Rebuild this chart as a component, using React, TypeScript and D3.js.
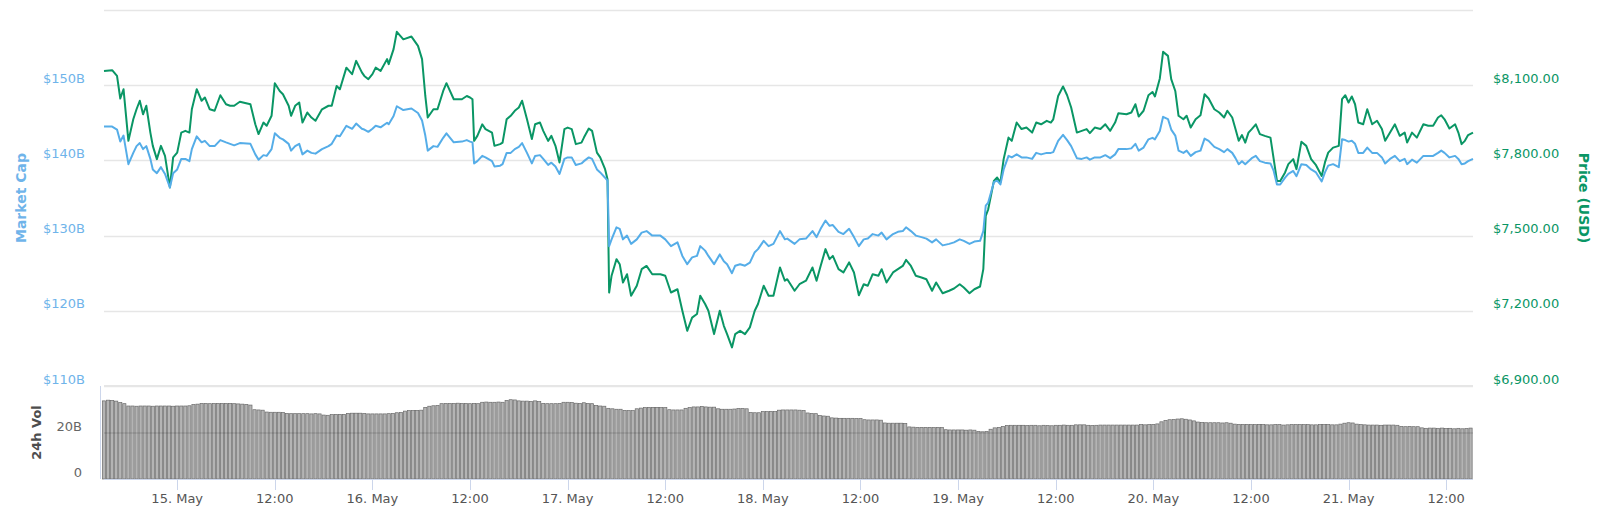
import React, { useEffect, useRef } from 'react';
import * as d3 from 'd3';

// 7 day window, starts 14 May 15:00 (UTC)
const START = Date.UTC(2019, 4, 14, 15, 0);
const HOUR = 3600 * 1000;
const SPAN_HOURS = 168.3;

// hours since START for each price / market cap sample
const hours = [
  0, 1, 1.6, 2, 2.4, 3, 3.6, 4, 4.4, 4.8,
  5.2, 5.7, 6, 6.5, 7, 7.5, 8.1, 8.5, 9, 9.5,
  10, 10.5, 10.8, 11.4, 12, 12.4, 13, 13.6, 14.3, 15,
  15.5, 16, 16.7, 18, 18.6, 19, 19.6, 20, 20.6, 21,
  21.6, 22, 22.7, 23, 23.5, 24, 24.4, 25, 25.5, 26,
  26.8, 27.6, 28, 28.6, 29, 29.8, 30.5, 31, 31.7, 32,
  32.5, 33, 33.4, 34, 34.8, 35, 35.6, 36, 36.8, 37.8,
  38.6, 39.1, 39.5, 39.8, 40.5, 41, 41.7, 42.1, 43, 44,
  44.6, 45, 45.3, 45.5, 45.9, 46.5, 46.9, 47.7, 48, 48.7,
  49, 49.5, 50, 50.5, 51, 51.4, 52, 52.6, 53, 53.6,
  54, 54.6, 55, 55.5, 56, 56.6, 57, 57.5, 58, 58.7,
  59, 59.6, 60, 60.6, 61, 61.6, 61.9, 62.1, 62.4, 63,
  63.4, 63.8, 64.3, 64.8, 65.5, 66.1, 66.7, 67.4, 68.4, 69,
  69.7, 70.5, 71.1, 71.7, 72.3, 72.9, 73.3, 73.9, 74.3, 75,
  75.7, 76.2, 76.6, 77.2, 77.6, 78.2, 78.8, 79.4, 80, 80.4,
  81.1, 81.7, 82.3, 83.1, 83.7, 84, 84.9, 85.5, 86.3, 87.1,
  87.6, 88.1, 88.7, 89.2, 89.6, 90.3, 90.9, 91.6, 92.2, 92.8,
  93.4, 93.9, 94.5, 95.2, 95.6, 96.2, 97, 97.6, 98.2, 98.6,
  99.2, 99.8, 100.5, 101.1, 101.8, 102.3, 103.1, 103.9, 104.5, 105.2,
  105.7, 106.4, 107, 107.7, 108.1, 108.4, 108.7, 109.4, 109.8, 110.2,
  110.6, 111.2, 111.6, 112.2, 112.8, 113.4, 114.1, 114.6, 115.2, 115.9,
  116.4, 116.7, 117.3, 117.9, 118.4, 118.9, 119.6, 120.2, 120.8, 121.2,
  121.8, 122.5, 123.1, 123.7, 124.3, 124.7, 125.7, 126.3, 126.8, 127.2,
  127.8, 128.4, 128.9, 129.2, 129.8, 130.2, 130.8, 131.2, 131.7, 132.1,
  132.7, 133.1, 133.6, 134.2, 134.8, 135.3, 135.8, 136.5, 137.1, 137.7,
  138.1, 138.7, 139.1, 139.5, 139.9, 140.3, 140.7, 141.1, 141.6, 142.1,
  142.7, 143.4, 143.8, 144.2, 144.6, 145.2, 145.6, 146.2, 146.6, 147.2,
  147.8, 148.4, 149, 149.7, 150.1, 150.5, 151.1, 151.8, 152.2, 152.6,
  153, 153.4, 153.8, 154.2, 154.8, 155.3, 155.9, 156.5, 157.1, 157.5,
  158.1, 158.7, 159.3, 159.9, 160.2, 160.8, 161.4, 162.2, 162.8, 163.4,
  164, 164.4, 164.8, 165.4, 166.1, 166.5, 166.9, 167.3, 167.7, 168.3,
];

// Price (USD)
const priceUsd = [
  8157, 8160, 8137, 8047, 8084, 7878, 7964, 8004, 8038, 7984,
  8018, 7911, 7858, 7805, 7858, 7818, 7692, 7812, 7831, 7911,
  7918, 7911, 8004, 8084, 8038, 8051, 8004, 7998, 8060, 8024,
  8018, 8018, 8034, 8024, 7944, 7905, 7951, 7938, 7978, 8108,
  8077, 8064, 8018, 7978, 8018, 8031, 7951, 7991, 7971, 7958,
  8004, 8018, 8018, 8097, 8084, 8170, 8144, 8197, 8151, 8137,
  8124, 8144, 8170, 8157, 8204, 8184, 8244, 8313, 8283, 8294,
  8257, 8204, 8057, 7971, 8004, 8004, 8077, 8108, 8044, 8044,
  8057, 8051, 8044, 7878, 7898, 7944, 7925, 7911, 7858, 7865,
  7871, 7964, 7978, 7998, 8011, 8038, 7964, 7885, 7944, 7951,
  7918, 7878, 7898, 7858, 7792, 7925, 7931, 7925, 7865, 7871,
  7891, 7927, 7918, 7831, 7812, 7765, 7725, 7273, 7340, 7406,
  7386, 7313, 7346, 7260, 7300, 7366, 7379, 7346, 7346, 7340,
  7273, 7286, 7200, 7120, 7173, 7187, 7260, 7227, 7200, 7107,
  7200, 7140, 7107, 7054, 7107, 7120, 7107, 7134, 7200, 7227,
  7300, 7260, 7260, 7373, 7320, 7326, 7280, 7306, 7320, 7373,
  7320, 7379, 7446, 7406, 7419, 7366, 7353, 7393, 7353, 7262,
  7306, 7300, 7346, 7340, 7366, 7313, 7353, 7366, 7379, 7403,
  7379, 7340, 7333, 7326, 7280, 7313, 7270, 7280, 7289, 7306,
  7293, 7270, 7286, 7297, 7366, 7579, 7605, 7718, 7732, 7712,
  7805, 7891, 7878, 7951, 7925, 7931, 7911, 7951, 7944, 7958,
  7951, 7964, 8057, 8095, 8060, 8011, 7911, 7918, 7925, 7909,
  7931, 7925, 7944, 7918, 7951, 7988, 7984, 7991, 8024, 7975,
  7998, 8060, 8073, 8055, 8127, 8233, 8217, 8124, 8077, 7978,
  7964, 7978, 7931, 7964, 7980, 8064, 8047, 8004, 7991, 7971,
  7998, 7971, 7925, 7878, 7901, 7871, 7911, 7925, 7944, 7905,
  7898, 7891, 7805, 7718, 7718, 7752, 7785, 7805, 7765, 7874,
  7858, 7805, 7781, 7738, 7792, 7831, 7851, 7858, 8044, 8060,
  8031, 8055, 8024, 7951, 7944, 8004, 7944, 7958, 7925, 7878,
  7911, 7944, 7898, 7911, 7871, 7911, 7891, 7944, 7938, 7938,
  7971, 7980, 7964, 7927, 7944, 7911, 7865, 7878, 7901, 7911,
];

// Market cap, billions USD
const marketCapB = [
  144.5, 144.5, 144.1, 142.5, 143.3, 139.5, 141.0, 141.9, 142.3, 141.5,
  141.9, 140.2, 138.8, 138.3, 139.1, 138.2, 136.4, 138.3, 138.8, 140.2,
  140.2, 139.9, 141.5, 143.2, 142.4, 142.6, 141.9, 141.9, 142.7, 142.4,
  142.2, 142.0, 142.3, 142.2, 140.8, 140.1, 140.7, 140.6, 141.5, 143.6,
  143.0, 142.8, 142.2, 141.3, 141.9, 142.2, 140.8, 141.3, 141.0, 140.9,
  141.5, 141.9, 142.2, 143.3, 143.2, 144.6, 144.2, 144.9, 144.2, 144.1,
  143.8, 144.2, 144.6, 144.4, 145.0, 144.8, 145.9, 147.2, 146.7, 146.9,
  146.3, 145.3, 143.3, 141.3, 141.9, 141.8, 143.0, 143.6, 142.4, 142.5,
  142.7, 142.5, 142.4, 139.6, 139.9, 140.6, 140.4, 139.9, 139.2, 139.3,
  139.5, 141.0, 141.0, 141.5, 141.8, 142.3, 141.0, 139.6, 140.6, 140.7,
  140.2, 139.4, 139.7, 139.2, 138.2, 140.2, 140.4, 140.4, 139.4, 139.6,
  139.9, 140.4, 140.2, 138.8, 138.4, 137.7, 137.3, 128.6, 129.5, 131.1,
  130.9, 129.5, 130.0, 128.9, 129.5, 130.4, 130.6, 130.0, 130.0, 129.5,
  128.6, 129.1, 127.3, 126.2, 127.1, 127.3, 128.6, 128.0, 127.3, 126.2,
  127.5, 126.6, 126.2, 125.0, 126.0, 126.2, 126.0, 126.4, 127.8, 128.2,
  129.3, 128.6, 128.9, 130.6, 129.5, 129.6, 128.9, 129.5, 129.6, 130.6,
  129.8, 130.9, 132.0, 131.3, 131.4, 130.5, 130.2, 130.9, 129.8, 128.6,
  129.5, 129.6, 130.2, 130.0, 130.4, 129.5, 130.2, 130.5, 130.6, 131.1,
  130.6, 130.0, 129.8, 129.6, 129.1, 129.5, 128.7, 128.9, 129.1, 129.5,
  129.3, 128.9, 129.2, 129.3, 130.6, 134.0, 134.4, 137.1, 137.3, 136.8,
  138.8, 140.6, 140.4, 140.8, 140.4, 140.4, 140.2, 141.0, 140.8, 141.0,
  141.0, 141.1, 142.6, 143.4, 142.7, 141.9, 140.3, 140.2, 140.4, 140.1,
  140.4, 140.4, 140.7, 140.3, 140.8, 141.5, 141.5, 141.6, 142.2, 141.3,
  141.7, 142.8, 143.0, 142.8, 143.9, 145.8, 145.5, 144.1, 143.3, 141.3,
  141.0, 141.3, 140.6, 141.1, 141.3, 142.9, 142.6, 141.8, 141.5, 141.1,
  141.5, 141.0, 140.3, 139.5, 139.9, 139.5, 139.9, 140.3, 140.6, 139.9,
  139.7, 139.6, 138.6, 136.8, 136.8, 137.7, 138.2, 138.6, 137.9, 139.5,
  139.4, 138.8, 138.4, 137.2, 138.4, 139.3, 139.5, 139.1, 142.8, 142.7,
  142.5, 142.6, 142.2, 141.0, 141.0, 141.7, 141.0, 141.0, 140.4, 139.6,
  140.2, 140.6, 139.9, 140.2, 139.5, 140.1, 139.7, 140.6, 140.6, 140.6,
  141.0, 141.3, 141.0, 140.4, 140.6, 140.2, 139.5, 139.6, 139.9, 140.2,
];

// 24h volume, billions USD, one bar every 30 minutes from START
const volume24hB = [
  33.6, 33.9, 33.8, 33.5, 32.9, 32.4,
  31.4, 31.4, 31.3, 31.4, 31.4, 31.4, 31.3, 31.4, 31.4, 31.4, 31.4, 31.3, 31.4, 31.4, 31.4, 31.5,
  32.0, 32.2,
  32.5, 32.5, 32.4, 32.5, 32.5, 32.5, 32.5, 32.5, 32.4, 32.3, 32.2, 32.1,
  31.8,
  29.8, 29.7, 29.6,
  28.8, 28.7, 28.7, 28.7, 28.6,
  28.2, 28.1, 28.1, 28.1, 28.1, 28.1, 28.0, 28.1, 28.0,
  27.5, 27.4,
  27.7, 27.8, 27.8, 27.8,
  28.2, 28.3, 28.3, 28.3, 28.2,
  28.0, 28.0, 28.0, 28.0, 28.0, 28.1, 28.2,
  28.5, 28.6,
  29.2, 29.4, 29.4, 29.5, 29.6,
  30.8, 31.3, 31.5, 31.6,
  32.4, 32.5, 32.5, 32.5, 32.6, 32.5, 32.5, 32.4, 32.5, 32.4,
  33.0, 33.1, 33.0, 33.0, 33.1, 33.0,
  33.8, 34.1, 34.0,
  33.6, 33.5, 33.5, 33.4, 33.6, 33.3,
  32.5, 32.4, 32.4, 32.4, 32.5,
  33.0, 33.0, 32.9,
  32.6, 32.5, 32.8, 32.5, 32.4,
  31.6, 31.4, 31.3,
  30.4, 30.2, 30.0, 30.0,
  29.5, 29.4, 29.4,
  30.2, 30.5, 30.7, 30.8, 30.8, 30.8, 30.7, 30.7,
  29.8, 29.7, 29.7, 29.7,
  30.4, 30.7, 31.0, 31.0, 31.2, 31.0, 30.9, 30.9,
  30.2, 30.0, 30.0, 30.0, 30.1,
  30.3, 30.3, 30.2,
  28.6, 28.5, 28.5,
  29.0, 29.0, 29.1, 29.0,
  29.6, 29.7, 29.7, 29.7, 29.7, 29.6, 29.5,
  28.4, 28.2, 28.1,
  27.3, 27.1, 27.0,
  26.3, 26.2, 26.1, 26.1, 26.1, 26.1, 26.0, 26.0,
  25.5, 25.4, 25.4, 25.4, 25.3,
  24.1, 24.0, 24.0, 24.0, 24.0, 23.9,
  22.4, 22.3, 22.2, 22.2, 22.2, 22.2, 22.1, 22.2, 22.1,
  21.2, 21.1, 21.1, 21.1, 21.1, 21.0, 21.1, 21.0,
  20.4, 20.3, 20.4,
  21.4, 22.0, 22.2, 22.6,
  23.0, 23.1, 23.1, 23.1, 23.1, 23.0, 23.1, 23.1, 22.9, 23.1,
  23.0, 22.9, 23.1, 23.1, 23.2, 23.1, 23.1, 23.3, 23.3, 23.3,
  23.1, 23.0, 23.1, 23.2, 23.2, 23.2, 23.2, 23.2, 23.2, 23.2,
  23.2, 23.2, 23.2, 23.4, 23.3, 23.4, 23.5, 23.7,
  24.6, 25.2, 25.5, 25.6, 25.8, 25.9, 25.7, 25.4, 25.0,
  24.5, 24.3, 24.2, 24.2, 24.2, 24.2, 24.1, 24.2, 24.0,
  23.6, 23.5, 23.5, 23.5, 23.4, 23.4, 23.5, 23.4, 23.3, 23.3,
  23.4, 23.4, 23.2, 23.3, 23.4, 23.4, 23.4, 23.4, 23.4, 23.3,
  23.3, 23.4, 23.4, 23.4, 23.3, 23.3, 23.6,
  24.0, 24.2, 24.1,
  23.6, 23.4, 23.3, 23.2, 23.2, 23.2, 23.1, 23.2, 23.2, 23.2, 23.1,
  22.6, 22.5, 22.6, 22.5, 22.5,
  22.0, 21.8, 21.9, 21.9, 21.8, 21.9, 21.7, 21.8, 21.6, 21.8, 21.6, 21.7, 21.9,
];

const capTicks = [110, 120, 130, 140, 150, 160];
const priceTicks = [6900, 7200, 7500, 7800, 8100, 8400];
const volTicks = [0, 20];

const BLUE = '#55ade8';
const BLUE_TEXT = '#6fb4ea';
const GREEN = '#0a9665';
const FONT = '"DejaVu Sans", Verdana, sans-serif';

const App: React.FC = () => {
  const svgRef = useRef<SVGSVGElement>(null);

  useEffect(() => {
    if (!svgRef.current) return;
    const svg = d3.select(svgRef.current);
    svg.selectAll('*').remove();

    const left = 104;
    const right = 1473;
    const top = 10;
    const bottom = 386;
    const volTop = 386;
    const volBottom = 479;

    const x = d3.scaleUtc()
      .domain([new Date(START), new Date(START + SPAN_HOURS * HOUR)])
      .range([left, right]);
    const yCap = d3.scaleLinear().domain([110, 160]).range([bottom, top]);
    const yPrice = d3.scaleLinear().domain([6900, 8400]).range([bottom, top]);
    const yVol = d3.scaleLinear().domain([0, 40]).range([volBottom, volTop]);

    // main grid
    svg.append('g')
      .selectAll('line')
      .data(capTicks)
      .join('line')
      .attr('x1', left)
      .attr('x2', right)
      .attr('y1', d => Math.round(yCap(d)) + 0.5)
      .attr('y2', d => Math.round(yCap(d)) + 0.5)
      .attr('stroke', '#e6e6e6')
      .attr('stroke-width', 1.3);

    // left labels (top one hidden)
    svg.append('g')
      .selectAll('text')
      .data(capTicks.slice(0, -1))
      .join('text')
      .attr('x', 85)
      .attr('y', d => yCap(d) - 2.5)
      .attr('text-anchor', 'end')
      .style('font', `13px ${FONT}`)
      .attr('fill', BLUE_TEXT)
      .text(d => `$${d}B`);

    // right labels
    svg.append('g')
      .selectAll('text')
      .data(priceTicks.slice(0, -1))
      .join('text')
      .attr('x', 1493)
      .attr('y', d => yPrice(d) - 2.5)
      .attr('text-anchor', 'start')
      .style('font', `13px ${FONT}`)
      .attr('fill', GREEN)
      .text(d => `$${d3.format(',.2f')(d)}`);

    svg.append('text')
      .attr('transform', `translate(21, ${(top + bottom) / 2}) rotate(-90)`)
      .attr('text-anchor', 'middle')
      .attr('dominant-baseline', 'central')
      .style('font', `bold 14px ${FONT}`)
      .attr('fill', BLUE_TEXT)
      .text('Market Cap');

    svg.append('text')
      .attr('transform', `translate(1584, ${(top + bottom) / 2}) rotate(90)`)
      .attr('text-anchor', 'middle')
      .attr('dominant-baseline', 'central')
      .style('font', `bold 14px ${FONT}`)
      .attr('fill', GREEN)
      .text('Price (USD)');

    // volume pane
    const barStep = 30 * 60 * 1000;
    const barW = (x(new Date(START + barStep)) - x(new Date(START))) * 0.78;
    svg.append('g')
      .selectAll('rect')
      .data(volume24hB)
      .join('rect')
      .attr('x', (_, i) => x(new Date(START + i * barStep)) - barW / 2)
      .attr('y', d => yVol(d))
      .attr('width', barW)
      .attr('height', d => volBottom - yVol(d))
      .attr('fill', '#b4b4b4')
      .attr('stroke', '#6a6a6a')
      .attr('stroke-width', 0.7);

    svg.append('line')
      .attr('x1', left).attr('x2', right)
      .attr('y1', yVol(20) + 0.5).attr('y2', yVol(20) + 0.5)
      .attr('stroke', 'rgba(0,0,0,0.18)')
      .attr('stroke-width', 1);

    svg.append('line')
      .attr('x1', left).attr('x2', right)
      .attr('y1', volTop).attr('y2', volTop)
      .attr('stroke', '#e6e6e6')
      .attr('stroke-width', 2);

    svg.append('g')
      .selectAll('text')
      .data(volTicks)
      .join('text')
      .attr('x', 82)
      .attr('y', d => yVol(d) - 2)
      .attr('text-anchor', 'end')
      .style('font', `13px ${FONT}`)
      .attr('fill', '#666666')
      .text(d => (d === 0 ? '0' : `${d}B`));

    svg.append('text')
      .attr('transform', `translate(36, ${(volTop + volBottom) / 2}) rotate(-90)`)
      .attr('text-anchor', 'middle')
      .attr('dominant-baseline', 'central')
      .style('font', `bold 13px ${FONT}`)
      .attr('fill', '#4d4d4d')
      .text('24h Vol');

    // volume y axis line
    svg.append('line')
      .attr('x1', 100.5).attr('x2', 100.5)
      .attr('y1', volTop).attr('y2', volBottom)
      .attr('stroke', '#ccd6eb');

    // x axis
    svg.append('line')
      .attr('x1', left).attr('x2', right)
      .attr('y1', volBottom + 0.5).attr('y2', volBottom + 0.5)
      .attr('stroke', '#ccd6eb');

    const ticks = x.ticks(d3.utcHour.every(12) as d3.TimeInterval);
    const fmtDay = d3.utcFormat('%-d. %b');
    const xAxis = svg.append('g');
    xAxis.selectAll('line')
      .data(ticks)
      .join('line')
      .attr('x1', d => Math.round(x(d)) + 0.5)
      .attr('x2', d => Math.round(x(d)) + 0.5)
      .attr('y1', volBottom)
      .attr('y2', volBottom + 11)
      .attr('stroke', '#ccd6eb');
    xAxis.selectAll('text')
      .data(ticks)
      .join('text')
      .attr('x', d => x(d))
      .attr('y', 503)
      .attr('text-anchor', 'middle')
      .style('font', `13px ${FONT}`)
      .attr('fill', '#555555')
      .text(d => (d.getUTCHours() === 0 ? fmtDay(d) : '12:00'));

    // lines
    const times = hours.map(h => new Date(START + h * HOUR));
    const priceLine = d3.line<number>()
      .x((_, i) => x(times[i]))
      .y(d => yPrice(d));
    const capLine = d3.line<number>()
      .x((_, i) => x(times[i]))
      .y(d => yCap(d));

    svg.append('path')
      .datum(priceUsd)
      .attr('d', priceLine)
      .attr('fill', 'none')
      .attr('stroke', GREEN)
      .attr('stroke-width', 2)
      .attr('stroke-linejoin', 'round');

    svg.append('path')
      .datum(marketCapB)
      .attr('d', capLine)
      .attr('fill', 'none')
      .attr('stroke', BLUE)
      .attr('stroke-width', 2)
      .attr('stroke-linejoin', 'round');
  }, []);

  return (
    <svg
      ref={svgRef}
      width={1600}
      height={513}
      viewBox="0 0 1600 513"
      style={{ position: 'absolute', left: 0, top: 0, background: '#fff' }}
    />
  );
};

export default App;
